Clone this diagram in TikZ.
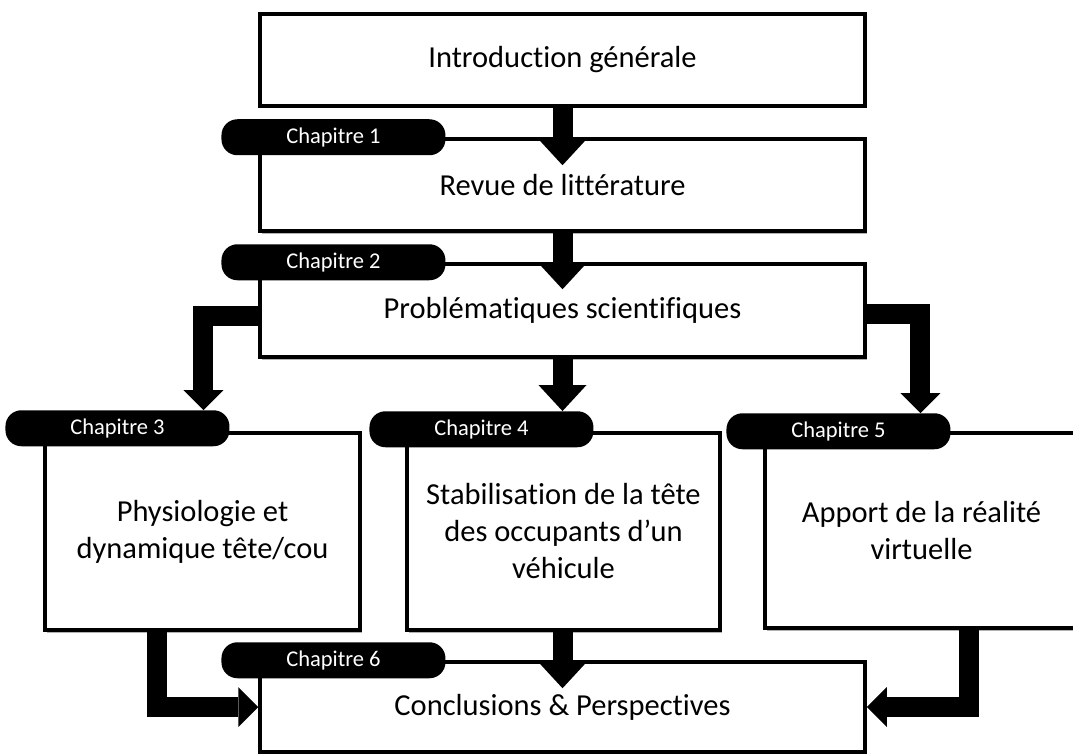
\documentclass[tikz,border=0pt]{standalone}
\usepackage{fontspec}
\setmainfont{Carlito}[Ligatures={NoCommon}]
\usepackage{tikz}
\usetikzlibrary{shapes,arrows,arrows.meta,shadows}
\tikzstyle{box} = [draw, line width=3.5pt, fill=white, inner sep=0pt, minimum width=605pt, minimum height=92pt, align=center, font=\fontsize{30.5}{37}\selectfont, drop shadow={shadow xshift=2pt, shadow yshift=-2.5pt, fill=black, opacity=0.3}]
\tikzstyle{chapbox} = [box, minimum width=313pt, minimum height=197pt]
\tikzstyle{tab} = [fill=black, text=white, rounded corners=16pt, minimum width=224pt, minimum height=36pt, inner sep=0pt, anchor=west, font=\fontsize{22.5}{27}\selectfont]
\tikzstyle{flow} = [draw, line width=20pt, -{Triangle[width=48pt,length=26pt,line width=0pt]}]
\tikzstyle{elbow} = [draw, line width=20pt, line join=miter, -{Triangle[width=40pt,length=20pt,line width=0pt]}]

\begin{document}
\begin{tikzpicture}[x=1pt, y=-1pt]
    \useasboundingbox (0,0) rectangle (1073,754);

    % boites
    \node[box] (intro) at (562.5,60) {Introduction générale};
    \node[box] (revue) at (562.5,185) {Revue de littérature};
    \node[box, minimum height=93pt] (prob) at (562.5,310.5) {Problématiques scientifiques};
    \node[chapbox, minimum width=315pt] (ch3) at (202.5,531.5) {Physiologie et\\dynamique tête/cou};
    \node[chapbox] (ch4) at (563.5,531.5) {Stabilisation de la tête\\des occupants d’un\\véhicule};
    \node[chapbox, minimum height=195pt] (ch5) at (921.5,530.5) {Apport de la réalité\\virtuelle};
    \node[box, minimum height=90pt] (concl) at (562.5,707) {Conclusions \& Perspectives};

    % onglets
    \node[tab] (t1) at ([xshift=-37pt]revue.north west) {Chapitre 1};
    \node[tab] (t2) at ([xshift=-37pt]prob.north west) {Chapitre 2};
    \node[tab] (t3) at ([xshift=-38pt, yshift=3pt]ch3.north west) {Chapitre 3};
    \node[tab] (t4) at ([xshift=-36pt, yshift=2pt]ch4.north west) {Chapitre 4};
    \node[tab] (t5) at ([xshift=-37pt]ch5.north west) {Chapitre 5};
    \node[tab] (t6) at ([xshift=-37pt]concl.north west) {Chapitre 6};

    % fleches
    \draw[flow] (intro.south) -- ([yshift=-28pt]revue.north);
    \draw[flow] (revue.south) -- ([yshift=-27pt]prob.north);
    \draw[flow] (prob.south) -- (prob.south |- t4.north);
    \draw[flow] (concl.north |- ch4.south) -- ([yshift=-28pt]concl.north);
    \draw[elbow] ([yshift=-5pt]prob.west) -| ([xshift=86pt]t3.north);
    \draw[elbow] ([yshift=-3pt]prob.east) -| ([xshift=82pt]t5.north);
    \draw[elbow] ([xshift=-45.5pt]ch3.south) |- (concl.west);
    \draw[elbow] ([xshift=47.5pt]ch5.south) |- (concl.east);
\end{tikzpicture}
\end{document}
